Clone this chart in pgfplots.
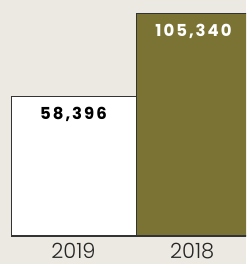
\documentclass[border=0pt]{standalone}
\usepackage{fontspec}
\setmainfont{Poppins}
\newfontfamily\lab{Poppins}[LetterSpace=12]
\newfontfamily\tickf{Poppins Light}
\usepackage{pgfplots}
\usepackage{pgfplotstable}
\pgfplotsset{compat=1.18}
\definecolor{bg}{HTML}{ECE9E2}
\definecolor{olive}{HTML}{7B7333}
\definecolor{edge}{HTML}{333333}
\pgfplotstableread{
x v
0 58396
}\dataA
\pgfplotstableread{
x v
1 105340
}\dataB
\begin{document}
\begin{tikzpicture}
\useasboundingbox (0pt,0pt) rectangle (246pt,264pt);
\clip (0pt,0pt) rectangle (246pt,264pt);
\fill[bg] (0pt,0pt) rectangle (246pt,264pt);
\begin{axis}[
  at={(0pt,28pt)}, anchor=south west,
  scale only axis, width=246pt, height=236pt,
  xmin=-0.588, xmax=1.38, ymin=0, ymax=133484,
  clip=false,
  ybar, bar width=1, bar shift=0pt,
  hide y axis,
  axis x line*=bottom,
  x axis line style={draw=none},
  xtick={0,0.95}, xticklabels={2019,2018},
  xtick style={draw=none},
  xticklabel style={anchor=base, inner sep=1pt, yshift=-18pt, font=\tickf\fontsize{21}{22}\selectfont, text=black!85},
  /pgf/number format/.cd, fixed, precision=0, 1000 sep={,}, assume math mode=true,
  /pgfplots/.cd,
  nodes near coords,
  nodes near coords style={anchor=base, yshift=-23pt, font=\lab\bfseries\fontsize{16.5}{17}\selectfont},
  point meta=explicit,
]
\addplot[fill=white, draw=edge, line width=1pt, nodes near coords style={text=black}]
  table[x=x, y expr=\thisrow{v}+20224, meta=v] {\dataA};
\addplot[fill=olive, draw=edge, line width=1pt, nodes near coords style={text=white, xshift=-5pt}]
  table[x=x, y expr=\thisrow{v}+20224, meta=v] {\dataB};
\end{axis}
\end{tikzpicture}
\end{document}
